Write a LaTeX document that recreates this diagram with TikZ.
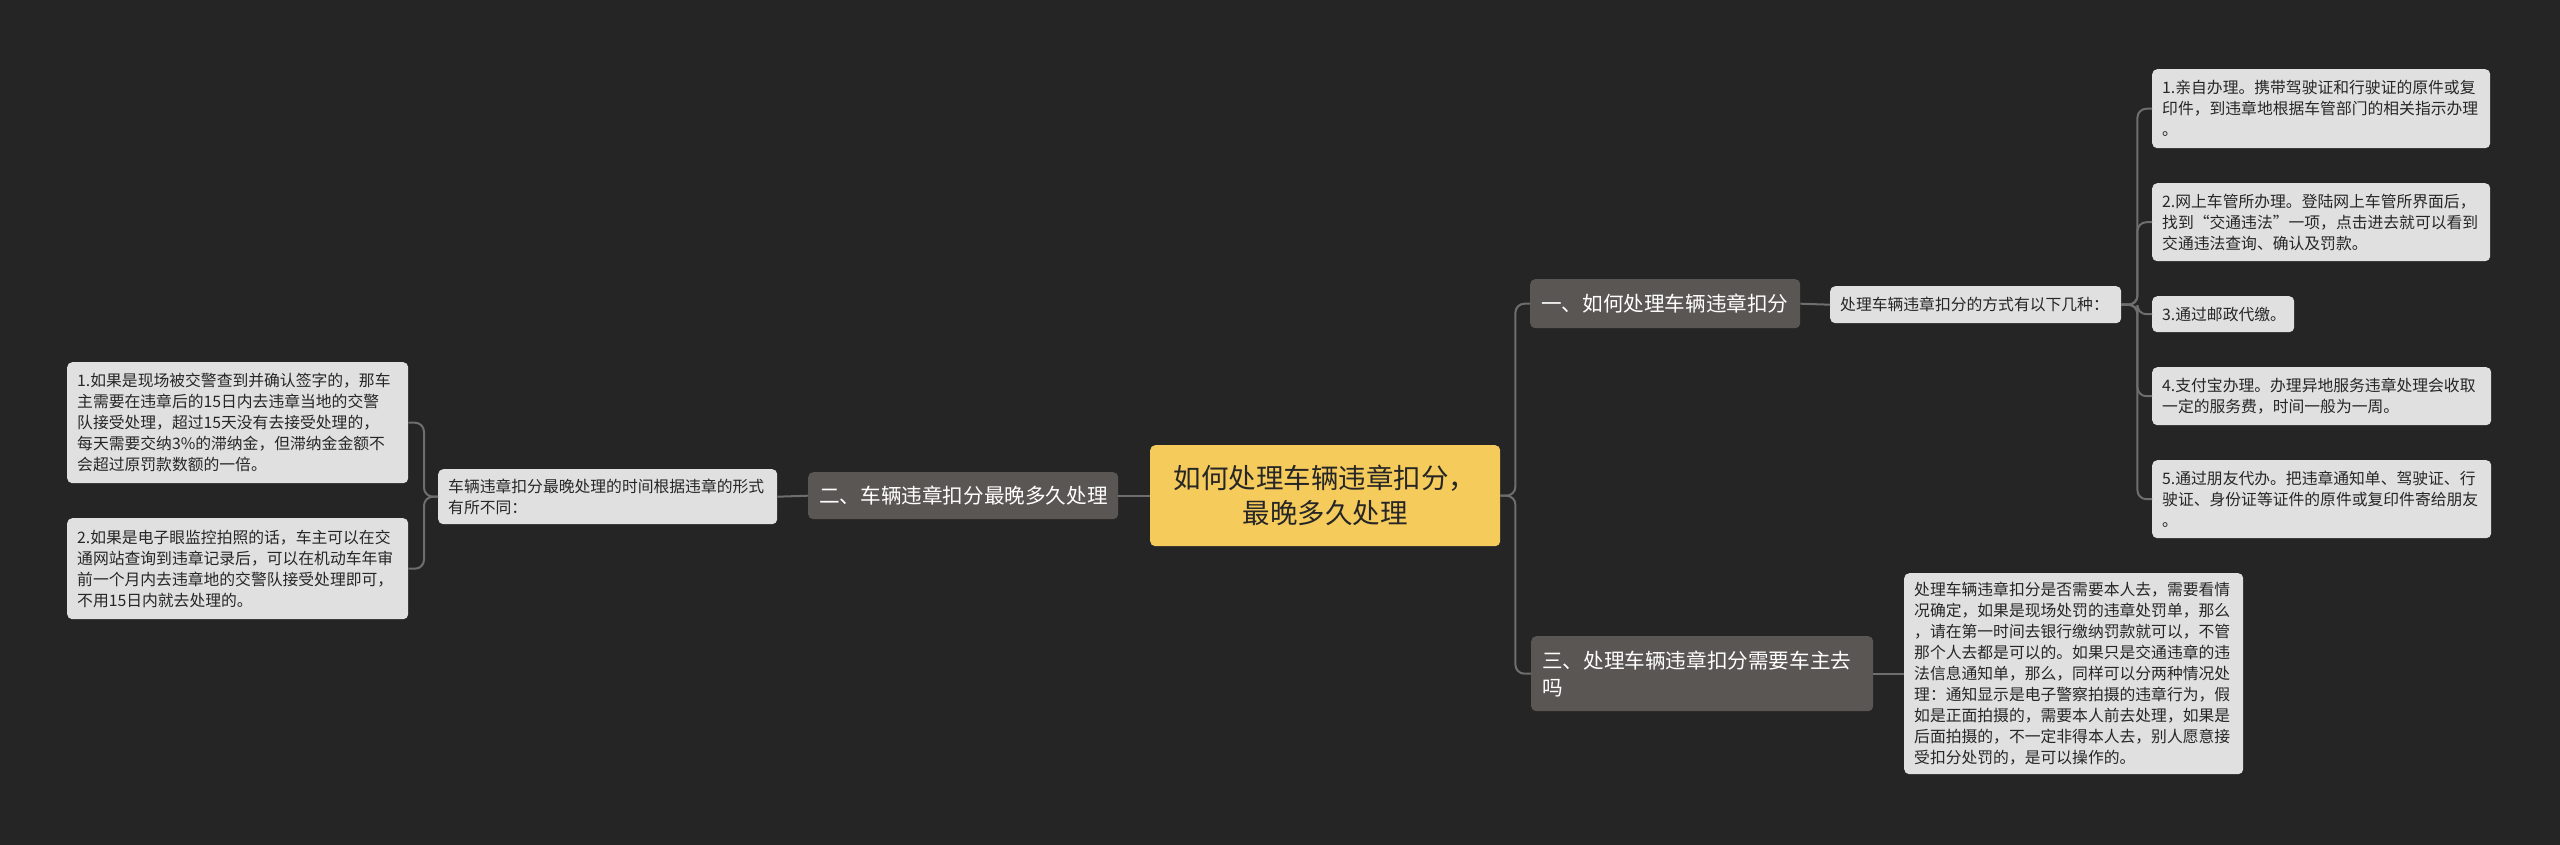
\documentclass[tikz,border=0pt]{standalone}
\usepackage{fontspec}
\setmainfont{Noto Sans CJK SC}
\definecolor{bgc}{HTML}{252525}
\definecolor{brc}{HTML}{5A5654}
\definecolor{lfc}{HTML}{E0E0E0}
\definecolor{ctc}{HTML}{F5CB5C}
\definecolor{lnc}{HTML}{6E6E6E}
\definecolor{txd}{HTML}{262626}
\tikzset{
  box/.style={rounded corners=5pt, anchor=north west, inner ysep=0pt},
  leaf/.style={box, fill=lfc, text=txd, align=left, inner xsep=10pt,
    font=\fontsize{15.8}{21}\selectfont},
  branch/.style={box, fill=brc, text=white, align=left, inner xsep=11pt,
    font=\fontsize{20.6}{27}\selectfont},
  center/.style={box, fill=ctc, text=txd, align=center, inner xsep=10pt,
    font=\fontsize{27.5}{35}\selectfont},
  link/.style={draw=lnc, line width=2pt, rounded corners=9pt},
}
\begin{document}
\begin{tikzpicture}[x=1pt,y=-1pt]
\fill[bgc] (0,0) rectangle (2560,845);
\useasboundingbox (0,0) rectangle (2560,845);

% center
\node[center, text width=330pt, minimum height=101pt] (c) at (1150,445)
  {如何处理车辆违章扣分，\\最晚多久处理};

% branch 1
\node[branch, text width=248pt, minimum height=49pt] (b1) at (1530,279)
  {一、如何处理车辆违章扣分};
\node[leaf, text width=271pt, minimum height=37pt] (l1) at (1830,286)
  {处理车辆违章扣分的方式有以下几种：};
\node[leaf, text width=318pt, minimum height=79pt] (r1) at (2152,69)
  {1.亲自办理。携带驾驶证和行驶证的原件或复\\印件，到违章地根据车管部门的相关指示办理\\。};
\node[leaf, text width=318pt, minimum height=78pt] (r2) at (2152,183)
  {2.网上车管所办理。登陆网上车管所界面后，\\找到“交通违法”一项，点击进去就可以看到\\交通违法查询、确认及罚款。};
\node[leaf, text width=122pt, minimum height=36pt] (r3) at (2152,296)
  {3.通过邮政代缴。};
\node[leaf, text width=319pt, minimum height=58pt] (r4) at (2152,367)
  {4.支付宝办理。办理异地服务违章处理会收取\\一定的服务费，时间一般为一周。};
\node[leaf, text width=319pt, minimum height=78pt] (r5) at (2152,460)
  {5.通过朋友代办。把违章通知单、驾驶证、行\\驶证、身份证等证件的原件或复印件寄给朋友\\。};

% branch 3
\node[branch, text width=320pt, minimum height=75pt] (b3) at (1531,636)
  {三、处理车辆违章扣分需要车主去\\吗};
\node[leaf, text width=319pt, minimum height=201pt] (l3) at (1904,573)
  {处理车辆违章扣分是否需要本人去，需要看情\\况确定，如果是现场处罚的违章处罚单，那么\\，请在第一时间去银行缴纳罚款就可以，不管\\那个人去都是可以的。如果只是交通违章的违\\法信息通知单，那么，同样可以分两种情况处\\理：通知显示是电子警察拍摄的违章行为，假\\如是正面拍摄的，需要本人前去处理，如果是\\后面拍摄的，不一定非得本人去，别人愿意接\\受扣分处罚的，是可以操作的。};

% branch 2
\node[branch, text width=288pt, minimum height=47pt] (b2) at (808,472)
  {二、车辆违章扣分最晚多久处理};
\node[leaf, text width=319pt, minimum height=55pt] (l2) at (438,469)
  {车辆违章扣分最晚处理的时间根据违章的形式\\有所不同：};
\node[leaf, text width=321pt, minimum height=121pt] (a1) at (67,362)
  {1.如果是现场被交警查到并确认签字的，那车\\主需要在违章后的15日内去违章当地的交警\\队接受处理，超过15天没有去接受处理的，\\每天需要交纳3\%的滞纳金，但滞纳金金额不\\会超过原罚款数额的一倍。};
\node[leaf, text width=321pt, minimum height=101pt] (a2) at (67,518)
  {2.如果是电子眼监控拍照的话，车主可以在交\\通网站查询到违章记录后，可以在机动车年审\\前一个月内去违章地的交警队接受处理即可，\\不用15日内就去处理的。};

% connectors
\draw[link] (c.east) -- ++(15,0) |- (b1.west);
\draw[link] (c.east) -- ++(15,0) |- (b3.west);
\draw[link] (c.west) -- (b2.east);
\draw[link] (b1.east) -- (l1.west);
\draw[link] (b3.east) -- (l3.west);
\draw[link] (b2.west) -- (l2.east);
\foreach \r in {r1,r2,r3,r4,r5}
  \draw[link] (l1.east) -- ++(16,0) |- (\r.west);
\foreach \r in {a1,a2}
  \draw[link] (l2.west) -- ++(-14,0) |- (\r.east);
\end{tikzpicture}
\end{document}
